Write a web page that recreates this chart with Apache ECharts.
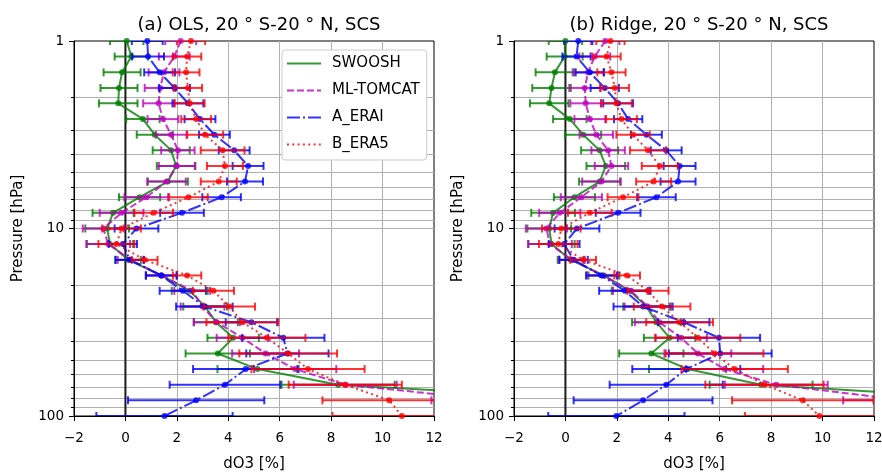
<!DOCTYPE html>
<html>
<head>
<meta charset="utf-8">
<script src="https://cdn.jsdelivr.net/npm/echarts@6/dist/echarts.min.js"></script>
<style>
  html, body { margin: 0; padding: 0; background: #fff; }
  #chart { width: 882px; height: 475px; }
</style>
</head>
<body>
<div id="chart"></div>
<script>
// pressure levels (hPa), 12 per decade
const levels = [1.0, 1.21, 1.47, 1.78, 2.15, 2.61, 3.16, 3.83, 4.64, 5.62, 6.81, 8.25, 10, 12.1, 14.7, 17.8, 21.5, 26.1, 31.6, 38.3, 46.4, 56.2, 68.1, 82.5, 100];
const minorLevels = [2, 3, 4, 5, 6, 7, 8, 9, 20, 30, 40, 50, 60, 70, 80, 90];
const zeroLine = [[0, 1], [0, 100]];

const models = ['SWOOSH', 'ML-TOMCAT', 'A_ERAI', 'B_ERA5'];

// (a) OLS
const olsSwoosh = [0.05, 0.23, -0.13, -0.25, -0.28, 0.68, 1.14, 1.78, 1.97, 1.65, 0.55, -0.48, -0.71, -0.6, 0.1, 1.4, 2.5, 3.1, 3.52, 4.19, 3.59, 5.13, 8.27, 19, 25];
const olsSwooshErr = [0.65, 0.65, 0.72, 0.72, 0.75, 0.65, 0.7, 0.72, 0.75, 0.78, 0.8, 0.8, 0.85, 0.9, 0.5, 0.6, 0.7, 0.85, 0.85, 1.0, 1.25, 1.55, 2.2, 2.8, 3.0];
const olsTomcat = [2.15, 1.9, 1.5, 1.35, 1.29, 1.46, 1.78, 2.04, 2.0, 1.6, 0.81, -0.15, -0.86, -0.67, 0.2, 1.4, 2.6, 3.0, 3.55, 4.55, 5.45, 6.6, 8.55, 14.4, 18];
const olsTomcatErr = [0.6, 0.6, 0.6, 0.6, 0.6, 0.6, 0.6, 0.65, 0.7, 0.75, 0.85, 0.85, 0.8, 0.85, 0.5, 0.6, 0.7, 0.85, 0.9, 1.0, 1.3, 1.6, 2.0, 2.5, 2.8];
const olsErai = [0.85, 0.88, 1.33, 1.91, 2.43, 2.9, 3.46, 4.23, 4.77, 4.65, 3.74, 2.2, 0.43, -0.1, 0.17, 1.39, 2.23, 3.07, 4.9, 6.14, 6.3, 4.68, 3.87, 2.75, 1.52];
const olsEraiErr = [0.6, 0.62, 0.6, 0.6, 0.6, 0.6, 0.6, 0.6, 0.6, 0.7, 0.75, 0.85, 0.85, 0.55, 0.55, 0.6, 0.9, 1.1, 1.0, 1.6, 1.6, 2.05, 2.15, 2.65, 2.65];
const olsEra5 = [2.55, 2.4, 2.36, 2.43, 2.5, 2.75, 3.1, 3.78, 3.87, 3.63, 2.45, 1.1, -0.15, -0.35, 0.75, 2.4, 3.42, 4.04, 4.55, 5.5, 6.33, 7.1, 8.55, 10.26, 10.75];
const olsEra5Err = [0.55, 0.55, 0.52, 0.55, 0.58, 0.58, 0.7, 0.85, 0.7, 0.7, 0.75, 0.75, 0.75, 0.7, 0.5, 0.55, 0.8, 1.0, 1.4, 1.5, 1.9, 2.2, 2.2, 2.6, 2.7];

// (b) Ridge
const rdgSwoosh = [0.0, -0.03, -0.41, -0.54, -0.63, 0.17, 0.69, 1.33, 1.57, 1.33, 0.35, -0.48, -0.63, -0.54, 0.2, 1.5, 2.5, 3.15, 3.54, 4.05, 3.34, 4.75, 7.61, 17.4, 22];
const rdgSwooshErr = [0.65, 0.7, 0.75, 0.75, 0.75, 0.65, 0.7, 0.72, 0.75, 0.8, 0.8, 0.85, 0.85, 0.9, 0.5, 0.6, 0.7, 0.9, 0.95, 1.0, 1.25, 1.5, 2.0, 2.6, 2.9];
const rdgTomcat = [1.55, 1.14, 0.88, 0.75, 0.79, 0.95, 1.2, 1.66, 1.79, 1.4, 0.62, -0.22, -0.74, -0.6, 0.25, 1.45, 2.55, 3.2, 3.65, 4.5, 5.15, 6.19, 8.2, 13.2, 16];
const rdgTomcatErr = [0.55, 0.6, 0.6, 0.6, 0.6, 0.6, 0.65, 0.65, 0.65, 0.75, 0.8, 0.8, 0.8, 0.85, 0.5, 0.6, 0.7, 0.9, 0.95, 1.0, 1.3, 1.5, 2.0, 2.4, 2.7];
const rdgErai = [0.5, 0.43, 0.95, 1.53, 2.05, 2.44, 3.15, 3.92, 4.44, 4.38, 3.54, 2.05, 0.45, -0.05, 0.32, 1.4, 2.31, 3.02, 4.6, 5.97, 6.02, 4.7, 3.92, 3.02, 1.98];
const rdgEraiErr = [0.55, 0.55, 0.55, 0.55, 0.58, 0.55, 0.6, 0.6, 0.62, 0.68, 0.75, 0.87, 0.87, 0.6, 0.55, 0.6, 1.0, 1.15, 1.0, 1.6, 2.0, 2.1, 2.2, 2.7, 2.65];
const rdgEra5 = [1.75, 1.6, 1.79, 1.92, 1.98, 2.18, 2.63, 3.21, 3.67, 3.43, 2.24, 0.95, -0.16, -0.28, 0.69, 2.4, 3.21, 3.76, 4.44, 5.15, 5.8, 6.58, 7.74, 9.23, 9.88];
const rdgEra5Err = [0.55, 0.55, 0.55, 0.55, 0.6, 0.6, 0.65, 0.7, 0.7, 0.68, 0.6, 0.85, 0.75, 0.75, 0.5, 0.5, 0.8, 1.1, 1.3, 1.65, 1.9, 2.07, 2.3, 2.75, 2.9];

const panels = [
  { title: '(a) OLS, 20 ° S-20 ° N, SCS', vals: [olsSwoosh, olsTomcat, olsErai, olsEra5], errs: [olsSwooshErr, olsTomcatErr, olsEraiErr, olsEra5Err] },
  { title: '(b) Ridge, 20 ° S-20 ° N, SCS', vals: [rdgSwoosh, rdgTomcat, rdgErai, rdgEra5], errs: [rdgSwooshErr, rdgTomcatErr, rdgEraiErr, rdgEra5Err] }
];

// styles
const FONT = 'DejaVu Sans';
const colors = ['#008000', '#bf00bf', '#0000ff', '#ff0000'];
const dashes = ['solid', [7, 3], [13, 3, 2, 3], [2, 3.3]];
const gridBoxes = [{ left: 74, width: 360 }, { left: 514, width: 360 }];
const xMin = -2, xMax = 12;

var chart = echarts.init(document.getElementById('chart'), null, { renderer: 'canvas' });

// horizontal error bar with caps
function errBar(color) {
  return function (params, api) {
    const p = api.value(2);
    const a = api.coord([api.value(0), p]);
    const b = api.coord([api.value(1), p]);
    const c = 4;
    const st = { stroke: color, lineWidth: 2, opacity: 0.8 };
    return {
      type: 'group',
      children: [
        { type: 'line', shape: { x1: a[0], y1: a[1], x2: b[0], y2: b[1] }, style: st },
        { type: 'line', shape: { x1: a[0], y1: a[1] - c, x2: a[0], y2: a[1] + c }, style: st },
        { type: 'line', shape: { x1: b[0], y1: b[1] - c, x2: b[0], y2: b[1] + c }, style: st }
      ]
    };
  };
}

// minor log grid lines (2..9, 20..90) and small ticks
function minorGrid(params, api) {
  const p = api.value(1);
  const a = api.coord([xMin, p]);
  const b = api.coord([xMax, p]);
  const y = Math.round(a[1]) + 0.5;
  return {
    type: 'group',
    children: [
      { type: 'line', shape: { x1: a[0], y1: y, x2: b[0], y2: y }, style: { stroke: '#b0b0b0', lineWidth: 1 } },
      { type: 'line', shape: { x1: a[0] - 3, y1: y, x2: a[0], y2: y }, style: { stroke: '#000', lineWidth: 1 } }
    ]
  };
}

const grids = [], xAxes = [], yAxes = [], titles = [], series = [];
panels.forEach(function (pan, i) {
  grids.push({
    left: gridBoxes[i].left, width: gridBoxes[i].width, top: 41, height: 375,
    show: true, borderColor: '#000', borderWidth: 1, backgroundColor: 'transparent',
    containLabel: false, outerBoundsMode: 'none'
  });
  titles.push({
    text: pan.title, left: gridBoxes[i].left + gridBoxes[i].width / 2, top: 11, textAlign: 'center',
    textStyle: { fontFamily: FONT, fontSize: 18, fontWeight: 'normal', color: '#000' }
  });
  xAxes.push({
    type: 'value', gridIndex: i, min: xMin, max: xMax, interval: 2,
    name: 'dO3 [%]', nameLocation: 'middle', nameGap: 41,
    nameTextStyle: { fontFamily: FONT, fontSize: 15, color: '#000' },
    axisLine: { show: true, onZero: false, lineStyle: { color: '#000', width: 1 } },
    axisTick: { show: true, length: 5, lineStyle: { color: '#000' } },
    axisLabel: { fontFamily: FONT, fontSize: 13.5, color: '#000', margin: 15,
      formatter: function (v) { return String(v).replace('-', '\u2212'); } },
    splitLine: { show: true, showMinLine: false, showMaxLine: false, lineStyle: { color: '#b0b0b0', width: 1 } }
  });
  yAxes.push({
    type: 'log', logBase: 10, gridIndex: i, min: 1, max: 100, inverse: true,
    name: 'Pressure [hPa]', nameLocation: 'middle', nameGap: 48, nameRotate: 90,
    nameTextStyle: { fontFamily: FONT, fontSize: 15, color: '#000' },
    axisLine: { show: true, onZero: false, lineStyle: { color: '#000', width: 1 } },
    axisTick: { show: true, length: 5, lineStyle: { color: '#000' } },
    axisLabel: { fontFamily: FONT, fontSize: 13.5, color: '#000', margin: 10 },
    splitLine: { show: true, showMinLine: false, showMaxLine: false, lineStyle: { color: '#b0b0b0', width: 1 } },
    minorTick: { show: false }, minorSplitLine: { show: false }
  });

  series.push({
    name: 'minor' + i, type: 'custom', xAxisIndex: i, yAxisIndex: i,
    data: minorLevels.map(function (p) { return [0, p]; }),
    encode: { x: 0, y: 1 }, renderItem: minorGrid, clip: false, silent: true, z: 0
  });
  series.push({
    name: 'zero' + i, type: 'line', xAxisIndex: i, yAxisIndex: i,
    data: zeroLine, symbol: 'none', silent: true, z: 1,
    lineStyle: { color: '#1a1a1a', width: 2 }
  });

  models.forEach(function (m, j) {
    const v = pan.vals[j], e = pan.errs[j];
    series.push({
      name: m + ' err' + i, type: 'custom', xAxisIndex: i, yAxisIndex: i,
      data: levels.map(function (p, k) { return [v[k] - e[k], v[k] + e[k], p]; }),
      encode: { x: [0, 1], y: 2 }, renderItem: errBar(colors[j]), clip: true, silent: true, z: 2 + j * 2
    });
    series.push({
      name: m, type: 'line', xAxisIndex: i, yAxisIndex: i,
      data: levels.map(function (p, k) { return [v[k], p]; }),
      symbol: 'circle', symbolSize: 6, showSymbol: true, clip: true, z: 3 + j * 2,
      lineStyle: { color: colors[j], width: 2, type: dashes[j], opacity: 0.8 },
      itemStyle: { color: colors[j], opacity: 0.8 }
    });
  });
});

chart.setOption({
  animation: false,
  backgroundColor: '#fff',
  title: titles,
  grid: grids,
  xAxis: xAxes,
  yAxis: yAxes,
  legend: {
    data: models, orient: 'vertical', left: 282, top: 50,
    padding: [6, 7, 8, 4], itemGap: 12, itemWidth: 34, itemHeight: 14,
    itemStyle: { opacity: 0 },
    textStyle: { fontFamily: FONT, fontSize: 15, color: '#000', padding: [0, 0, 0, 6] },
    backgroundColor: '#fff', borderColor: '#cccccc', borderWidth: 1, borderRadius: 3
  },
  series: series
});
</script>
</body>
</html>
